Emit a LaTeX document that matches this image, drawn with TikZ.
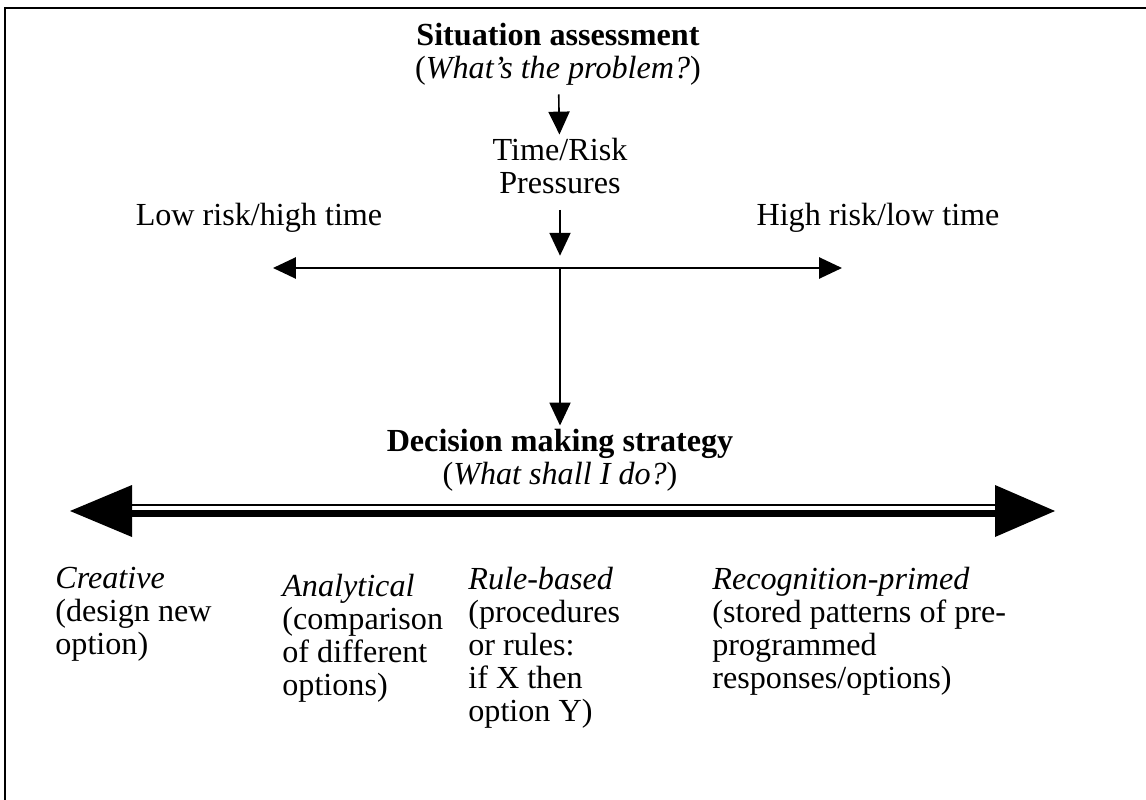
\documentclass[tikz,border=0pt]{standalone}
\usepackage{fontspec}
\setmainfont{Liberation Serif}
\usetikzlibrary{arrows.meta}
\tikzset{
  txt/.style={inner sep=0pt, font=\fontsize{18.3}{18.7}\selectfont},
  col/.style={txt, align=left, anchor=north west},
  >={Triangle[length=13pt,width=12pt]}
}
\begin{document}
\begin{tikzpicture}[x=0.02cm,y=-0.02cm]
 \useasboundingbox (0,0) rectangle (1146,800);
 \draw[line width=1.1pt] (5,800)--(5,8)--(1146,8);
 % upper part
 \node[txt,align=center,anchor=north] (sit) at (558,23) {\textbf{Situation assessment}\\(\textit{What's the problem?})};
 \node[txt,align=center,anchor=north] (tp) at (560,138) {Time/Risk\\Pressures};
 \node[txt,anchor=base] (low) at (259,226) {Low risk/high time};
 \node[txt,anchor=base] (high) at (878,226) {High risk/low time};
 \coordinate (hl) at (273,268);
 \coordinate (hr) at (842,268);
 \coordinate (hm) at (560,268);
 \node[txt,align=center,anchor=north] (dec) at (560,429) {\textbf{Decision making strategy}\\(\textit{What shall I do?})};
 \draw[->,line width=0.9pt,shorten <=5pt,shorten >=2pt] (sit) -- (tp);
 \draw[->,line width=0.9pt,shorten <=9pt,shorten >=7pt] (tp) -- (hm);
 \draw[<->,line width=1.1pt] (hl) -- (hr);
 \draw[->,line width=0.9pt,shorten >=2pt] (hm) -- (dec);
 % thick double arrow
 \coordinate (tl) at (70,511);
 \coordinate (tr) at (1055,511);
 \draw[line width=1pt,shorten <=34pt,shorten >=33pt] ([yshift=3.4pt]tl) -- ([yshift=3.4pt]tr);
 \draw[line width=4pt,shorten <=34pt,shorten >=33pt] ([yshift=-1.2pt]tl) -- ([yshift=-1.2pt]tr);
 \fill (tl) -- ++(62,-26) -- ++(0,52) -- cycle;
 \fill (tr) -- ++(-60,-26) -- ++(0,52) -- cycle;
 % strategies
 \node[col] (cre) at (55,567) {\textit{Creative}\\(design new\\option)};
 \node[col] (ana) at (282,574) {\textit{Analytical}\\(comparison\\of different\\options)};
 \node[col] (rul) at (468,567) {\textit{Rule-based}\\(procedures\\or rules:\\if X then\\option Y)};
 \node[col] (rec) at (712,567) {\textit{Recognition-primed}\\(stored patterns of pre-\\programmed\\responses/options)};
\end{tikzpicture}
\end{document}
